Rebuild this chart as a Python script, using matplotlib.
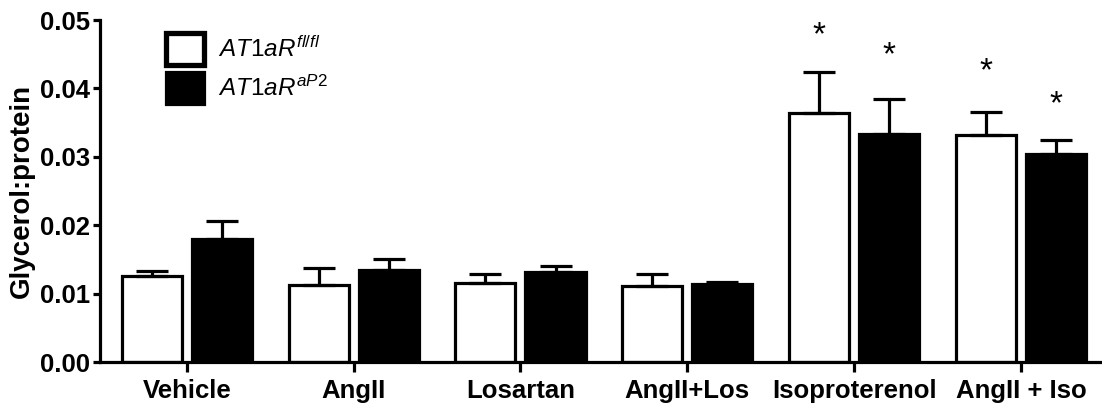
import numpy as np
import matplotlib
matplotlib.use("Agg")
import matplotlib.pyplot as plt
from matplotlib.patches import Patch

plt.rcParams['font.family'] = ['Liberation Sans', 'DejaVu Sans']
plt.rcParams['mathtext.fontset'] = 'custom'
plt.rcParams['mathtext.rm'] = 'Liberation Sans'
plt.rcParams['mathtext.it'] = 'Liberation Sans:italic'

# data
categories = ["Vehicle", "AngII", "Losartan", "AngII+Los", "Isoproterenol", "AngII + Iso"]
flfl_mean = [0.0126, 0.0112, 0.0116, 0.0111, 0.0364, 0.0332]
flfl_err = [0.0007, 0.0025, 0.0013, 0.0018, 0.0060, 0.0034]
ap2_mean = [0.0180, 0.0134, 0.0132, 0.0114, 0.0333, 0.0304]
ap2_err = [0.0026, 0.0016, 0.0008, 0.0003, 0.0052, 0.0021]
# asterisks: (category index, group 0=fl/fl 1=aP2, height)
stars = [(4, 0, 0.0477), (4, 1, 0.0448), (5, 0, 0.0424), (5, 1, 0.0376)]

W = 0.36
OFF = 0.21
LW = 2.3

fig = plt.figure(figsize=(11.02, 4.04), dpi=100)
ax = fig.add_axes([100/1102, 42/404, 1002/1102, 342/404])

x = np.arange(len(categories))
n = len(categories)
ekw = dict(elinewidth=LW, capthick=LW, ecolor='black', capsize=11.5)
ax.bar(x - OFF, flfl_mean, W, color='white', edgecolor='black', linewidth=LW,
       yerr=[np.zeros(n), flfl_err], error_kw=ekw, zorder=2)
ax.bar(x + OFF, ap2_mean, W, color='black', edgecolor='black', linewidth=LW,
       yerr=[np.zeros(n), ap2_err], error_kw=ekw, zorder=2)

for ci, g, h in stars:
    xs = ci - OFF if g == 0 else ci + OFF
    ax.text(xs, h, "*", ha='center', va='center', fontsize=24)

ax.set_xlim(-0.52, 5.485)
ax.set_ylim(0, 0.05)
ax.set_yticks([0, 0.01, 0.02, 0.03, 0.04, 0.05])
ax.set_yticklabels(["%.2f" % v for v in [0, 0.01, 0.02, 0.03, 0.04, 0.05]],
                   fontsize=18.5, fontweight='bold')
ax.set_xticks(x)
ax.set_xticklabels(categories, fontsize=18.5, fontweight='bold')
ax.set_ylabel("Glycerol:protein", fontsize=20, fontweight='bold', labelpad=4)

for s in ['top', 'right']:
    ax.spines[s].set_visible(False)
for s in ['left', 'bottom']:
    ax.spines[s].set_linewidth(LW)
ax.tick_params(axis='y', direction='out', length=5, width=LW, pad=2)
ax.tick_params(axis='x', direction='out', length=7, width=LW, pad=5)

handles = [Patch(facecolor='white', edgecolor='black', linewidth=LW + 1.5),
           Patch(facecolor='black', edgecolor='black', linewidth=LW)]
labels = [r'$\mathit{AT1aR}^{\mathit{fl/fl}}$', r'$\mathit{AT1aR}^{\mathit{aP2}}$']
ax.legend(handles, labels, loc='upper left', bbox_to_anchor=(0.066, 0.962),
          frameon=False, fontsize=17.5, handlelength=1.55, handleheight=1.65,
          handletextpad=0.6, labelspacing=0.3, borderaxespad=0, borderpad=0)

fig.savefig("out.png", dpi=100)
